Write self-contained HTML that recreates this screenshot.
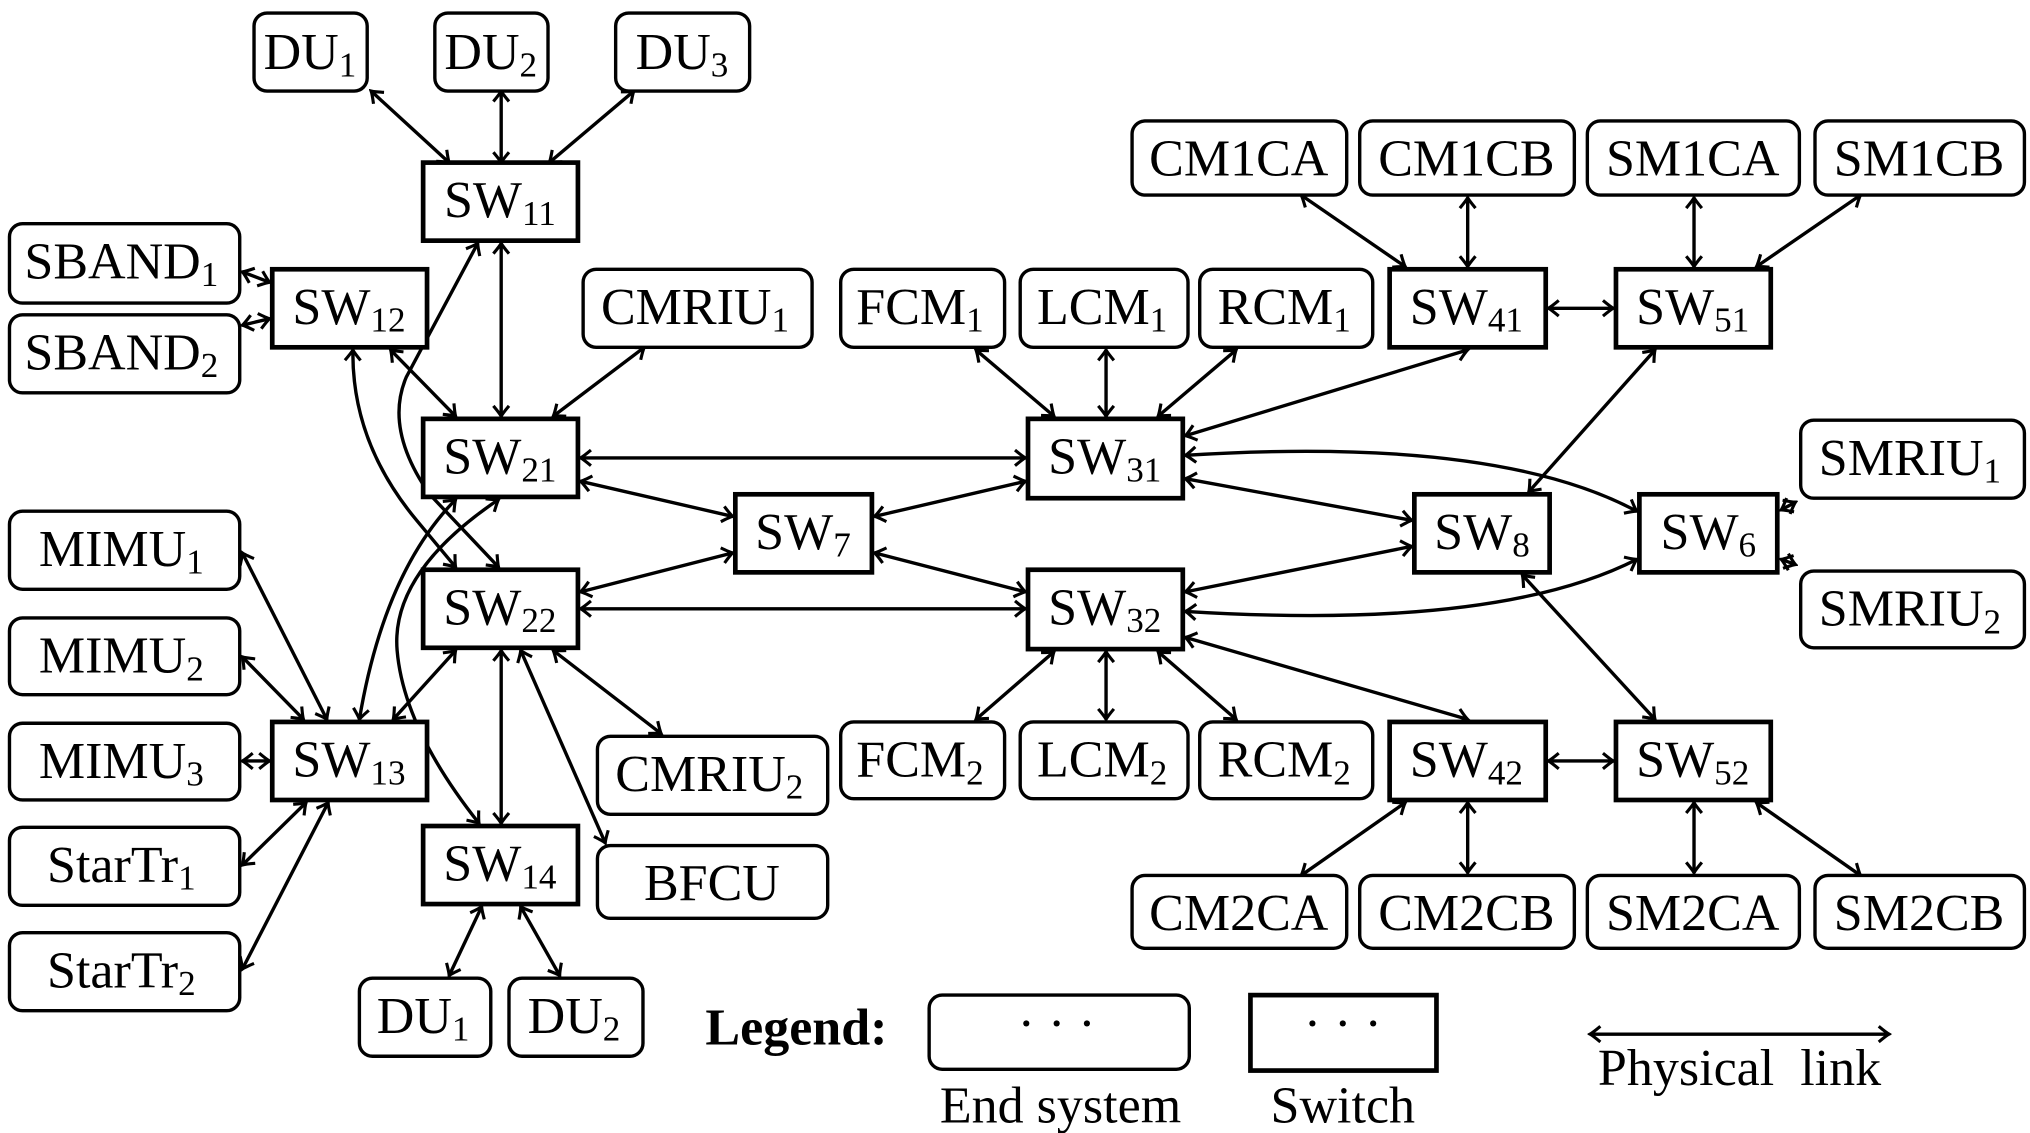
<!DOCTYPE html>
<html><head><meta charset="utf-8"><style>
html,body{margin:0;padding:0;background:#fff;}
svg{display:block;}
text{font-family:"Liberation Serif",serif;font-size:40px;fill:#000;text-anchor:middle;}
.s{font-size:27px;}
.es{fill:#fff;stroke:#000;stroke-width:2.6;}
.sw{fill:#fff;stroke:#000;stroke-width:3.6;}
.l{fill:none;stroke:#000;stroke-width:2.6;marker-start:url(#a);marker-end:url(#a);}
</style></head><body>
<svg width="2030" height="1133" viewBox="0 0 1560 871" xmlns="http://www.w3.org/2000/svg">
<defs>
<marker id="a" viewBox="-10 -8 12 16" refX="0" refY="0" markerWidth="12" markerHeight="16" markerUnits="userSpaceOnUse" orient="auto-start-reverse">
<path d="M-8,-6 Q-2,-1 0,0 Q-2,1 -8,6" fill="none" stroke="#000" stroke-width="2.4"/>
</marker>
</defs>
<g>
<path class="l" d="M285,70 L345,125"/>
<path class="l" d="M385,70 L385,125"/>
<path class="l" d="M487,70 L422,125"/>
<path class="l" d="M385,187 L385,320"/>
<path class="l" d="M367,187 L312,290 Q295,330 330,380 L383,436"/>
<path class="l" d="M271,269 Q270,340 320,400 L350,436"/>
<path class="l" d="M300,269 L350,320"/>
<path class="l" d="M495,267 L425,320"/>
<path class="l" d="M350,384 Q295,440 276,553"/>
<path class="l" d="M383,384 Q300,440 305,500 Q310,560 368,633"/>
<path class="l" d="M350,500 L302,553"/>
<path class="l" d="M385,500 L385,633"/>
<path class="l" d="M400,500 L465,648"/>
<path class="l" d="M425,500 L508,564"/>
<path class="l" d="M370,697 L345,750"/>
<path class="l" d="M400,697 L430,750"/>
<path class="l" d="M186,209 L207,217"/>
<path class="l" d="M186,250 L207,245"/>
<path class="l" d="M186,425 L251,553"/>
<path class="l" d="M186,505 L233,553"/>
<path class="l" d="M186,585 L207,585"/>
<path class="l" d="M186,665 L235,617"/>
<path class="l" d="M186,745 L252,617"/>
<path class="l" d="M446,352 L788,352"/>
<path class="l" d="M446,370 L563,397"/>
<path class="l" d="M446,468 L788,468"/>
<path class="l" d="M446,455 L563,425"/>
<path class="l" d="M672,397 L788,370"/>
<path class="l" d="M672,425 L788,455"/>
<path class="l" d="M750,269 L810,320"/>
<path class="l" d="M850,269 L850,320"/>
<path class="l" d="M950,269 L890,320"/>
<path class="l" d="M911,335 L1128,269"/>
<path class="l" d="M911,368 L1085,400"/>
<path class="l" d="M911,455 L1085,420"/>
<path class="l" d="M911,350 Q1150,335 1258,393"/>
<path class="l" d="M911,470 Q1150,485 1258,430"/>
<path class="l" d="M1175,378 L1272,269"/>
<path class="l" d="M1170,442 L1272,553"/>
<path class="l" d="M1369,392 L1380,386"/>
<path class="l" d="M1369,430 L1380,434"/>
<path class="l" d="M1000,150 L1080,205"/>
<path class="l" d="M1128,152 L1128,205"/>
<path class="l" d="M1302,152 L1302,205"/>
<path class="l" d="M1430,150 L1350,205"/>
<path class="l" d="M1190,237 L1240,237"/>
<path class="l" d="M810,501 L750,553"/>
<path class="l" d="M850,501 L850,553"/>
<path class="l" d="M890,501 L950,553"/>
<path class="l" d="M911,490 L1128,553"/>
<path class="l" d="M1190,585 L1240,585"/>
<path class="l" d="M1080,617 L1000,673"/>
<path class="l" d="M1128,617 L1128,671"/>
<path class="l" d="M1302,617 L1302,671"/>
<path class="l" d="M1350,617 L1430,673"/>
<path class="l" d="M1222,795 L1452,795"/>
</g>
<g>
<rect class="es" x="195" y="10" width="87" height="60" rx="10"/><text x="238" y="53">DU<tspan class="s" dy="6">1</tspan></text>
<rect class="es" x="334" y="10" width="87" height="60" rx="10"/><text x="377" y="53">DU<tspan class="s" dy="6">2</tspan></text>
<rect class="es" x="473" y="10" width="103" height="60" rx="10"/><text x="524" y="53">DU<tspan class="s" dy="6">3</tspan></text>
<rect class="es" x="870" y="93" width="165" height="57" rx="10"/><text x="952" y="135">CM1CA</text>
<rect class="es" x="1045" y="93" width="165" height="57" rx="10"/><text x="1127" y="135">CM1CB</text>
<rect class="es" x="1220" y="93" width="163" height="57" rx="10"/><text x="1301" y="135">SM1CA</text>
<rect class="es" x="1395" y="93" width="161" height="57" rx="10"/><text x="1475" y="135">SM1CB</text>
<rect class="es" x="7" y="172" width="177" height="61" rx="10"/><text x="93" y="214">SBAND<tspan class="s" dy="6">1</tspan></text>
<rect class="es" x="7" y="242" width="177" height="60" rx="10"/><text x="93" y="284">SBAND<tspan class="s" dy="6">2</tspan></text>
<rect class="es" x="448" y="207" width="176" height="60" rx="10"/><text x="534" y="249">CMRIU<tspan class="s" dy="6">1</tspan></text>
<rect class="es" x="646" y="207" width="126" height="60" rx="10"/><text x="707" y="249">FCM<tspan class="s" dy="6">1</tspan></text>
<rect class="es" x="784" y="207" width="129" height="60" rx="10"/><text x="847" y="249">LCM<tspan class="s" dy="6">1</tspan></text>
<rect class="es" x="922" y="207" width="133" height="60" rx="10"/><text x="987" y="249">RCM<tspan class="s" dy="6">1</tspan></text>
<rect class="es" x="1384" y="323" width="172" height="60" rx="10"/><text x="1468" y="365">SMRIU<tspan class="s" dy="6">1</tspan></text>
<rect class="es" x="7" y="393" width="177" height="60" rx="10"/><text x="93" y="435">MIMU<tspan class="s" dy="6">1</tspan></text>
<rect class="es" x="7" y="475" width="177" height="59" rx="10"/><text x="93" y="517">MIMU<tspan class="s" dy="6">2</tspan></text>
<rect class="es" x="7" y="556" width="177" height="59" rx="10"/><text x="93" y="598">MIMU<tspan class="s" dy="6">3</tspan></text>
<rect class="es" x="1384" y="439" width="172" height="59" rx="10"/><text x="1468" y="481">SMRIU<tspan class="s" dy="6">2</tspan></text>
<rect class="es" x="459" y="566" width="177" height="60" rx="10"/><text x="545" y="608">CMRIU<tspan class="s" dy="6">2</tspan></text>
<rect class="es" x="646" y="555" width="126" height="59" rx="10"/><text x="707" y="597">FCM<tspan class="s" dy="6">2</tspan></text>
<rect class="es" x="784" y="555" width="129" height="59" rx="10"/><text x="847" y="597">LCM<tspan class="s" dy="6">2</tspan></text>
<rect class="es" x="922" y="555" width="133" height="59" rx="10"/><text x="987" y="597">RCM<tspan class="s" dy="6">2</tspan></text>
<rect class="es" x="7" y="636" width="177" height="60" rx="10"/><text x="93" y="678">StarTr<tspan class="s" dy="6">1</tspan></text>
<rect class="es" x="7" y="717" width="177" height="60" rx="10"/><text x="93" y="759">StarTr<tspan class="s" dy="6">2</tspan></text>
<rect class="es" x="459" y="650" width="177" height="56" rx="10"/><text x="547" y="692">BFCU</text>
<rect class="es" x="870" y="673" width="165" height="56" rx="10"/><text x="952" y="715">CM2CA</text>
<rect class="es" x="1045" y="673" width="165" height="56" rx="10"/><text x="1127" y="715">CM2CB</text>
<rect class="es" x="1220" y="673" width="163" height="56" rx="10"/><text x="1301" y="715">SM2CA</text>
<rect class="es" x="1395" y="673" width="161" height="56" rx="10"/><text x="1475" y="715">SM2CB</text>
<rect class="es" x="276" y="752" width="101" height="60" rx="10"/><text x="325" y="794">DU<tspan class="s" dy="6">1</tspan></text>
<rect class="es" x="391" y="752" width="103" height="60" rx="10"/><text x="441" y="794">DU<tspan class="s" dy="6">2</tspan></text>
</g>
<g>
<rect class="sw" x="325" y="125" width="119" height="60"/><text x="384" y="167">SW<tspan class="s" dy="6">11</tspan></text>
<rect class="sw" x="209" y="207" width="119" height="60"/><text x="268" y="249">SW<tspan class="s" dy="6">12</tspan></text>
<rect class="sw" x="1068" y="207" width="120" height="60"/><text x="1127" y="249">SW<tspan class="s" dy="6">41</tspan></text>
<rect class="sw" x="1242" y="207" width="119" height="60"/><text x="1301" y="249">SW<tspan class="s" dy="6">51</tspan></text>
<rect class="sw" x="325" y="322" width="119" height="60"/><text x="384" y="364">SW<tspan class="s" dy="6">21</tspan></text>
<rect class="sw" x="790" y="322" width="119" height="61"/><text x="849" y="364">SW<tspan class="s" dy="6">31</tspan></text>
<rect class="sw" x="565" y="380" width="105" height="60"/><text x="617" y="422">SW<tspan class="s" dy="6">7</tspan></text>
<rect class="sw" x="1087" y="380" width="104" height="60"/><text x="1139" y="422">SW<tspan class="s" dy="6">8</tspan></text>
<rect class="sw" x="1260" y="380" width="106" height="60"/><text x="1313" y="422">SW<tspan class="s" dy="6">6</tspan></text>
<rect class="sw" x="325" y="438" width="119" height="60"/><text x="384" y="480">SW<tspan class="s" dy="6">22</tspan></text>
<rect class="sw" x="790" y="438" width="119" height="61"/><text x="849" y="480">SW<tspan class="s" dy="6">32</tspan></text>
<rect class="sw" x="209" y="555" width="119" height="60"/><text x="268" y="597">SW<tspan class="s" dy="6">13</tspan></text>
<rect class="sw" x="1068" y="555" width="120" height="60"/><text x="1127" y="597">SW<tspan class="s" dy="6">42</tspan></text>
<rect class="sw" x="1242" y="555" width="119" height="60"/><text x="1301" y="597">SW<tspan class="s" dy="6">52</tspan></text>
<rect class="sw" x="325" y="635" width="119" height="60"/><text x="384" y="677">SW<tspan class="s" dy="6">14</tspan></text>
</g>
<text x="612" y="803" style="font-weight:bold">Legend:</text>
<rect class="es" x="714" y="765" width="200" height="57" rx="10"/><text x="812" y="800">· · ·</text>
<rect class="sw" x="961" y="765" width="143" height="58"/><text x="1032" y="800">· · ·</text>
<text x="815" y="863">End system</text>
<text x="1032" y="863">Switch</text>
<text x="1337" y="834">Physical&#160;&#160;link</text>
</svg>
</body></html>
